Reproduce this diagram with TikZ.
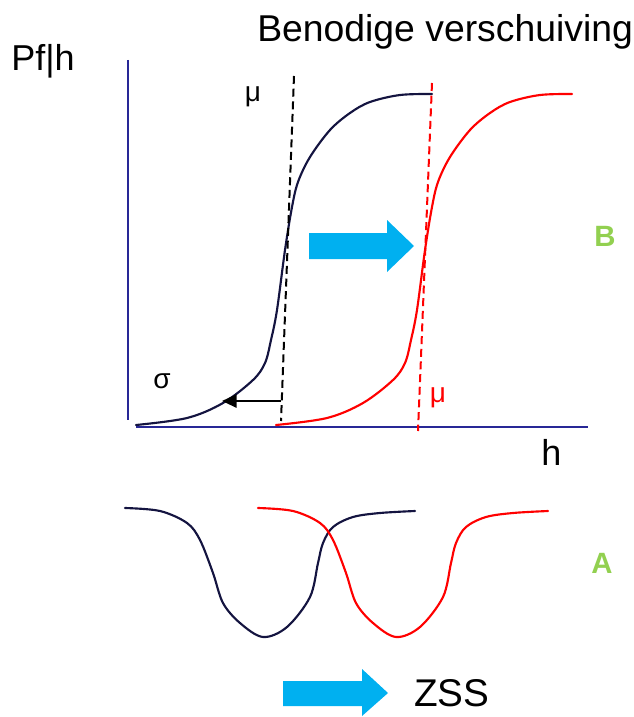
\documentclass[tikz,border=0pt]{standalone}
\usepackage{fontspec}
\setmainfont{Liberation Sans}
\usetikzlibrary{arrows.meta}
\definecolor{navy}{RGB}{20,20,64}
\definecolor{axisblue}{RGB}{40,40,150}
\definecolor{shiftblue}{RGB}{0,176,240}
\definecolor{tagreen}{RGB}{146,208,80}

\tikzset{
  upper s/.pic={\draw[sigmoid,pic actions] plot[smooth,tension=0.55] coordinates {
    (136,425) (187,418) (223,403) (253,380) (265,363) (271,340) (277,310) (285,250)
    (292,207) (298,182) (310,157) (330,130) (350,113) (370,102) (400,95) (432,94)};},
  lower dip/.pic={\draw[sigmoid,pic actions] plot[smooth,tension=0.55] coordinates {
    (125,508) (160,511) (187,523) (200,540) (213,573) (223,603) (240,623) (263,637)
    (287,627) (310,597) (318,563) (323,543) (333,527) (353,517) (380,513) (415,511)};}
}

\begin{document}
\begin{tikzpicture}[x=0.75pt,y=-0.75pt,>={Triangle[length=11pt,width=10pt]},
  lbl/.style={inner sep=0pt,anchor=base west,font=\fontsize{27}{31}\selectfont},
  sym/.style={inner sep=0pt,anchor=base,font=\fontsize{21}{25}\selectfont},
  tagfont/.style={inner sep=0pt,anchor=base west,text=tagreen,font=\fontsize{22}{26}\selectfont\bfseries},
  sigmoid/.style={line width=1.6pt,line join=round,line cap=round},
  meanline/.style={line width=1.5pt,dash pattern=on 6pt off 3.5pt},
  bigarrow/.style={fill=shiftblue,draw=none}]
\useasboundingbox (0,0) rectangle (634,717);

% labels
\node[lbl,font=\fontsize{28}{32}\selectfont] (title) at (257,42) {Benodige verschuiving};
\node[lbl] (ylab) at (11,70) {Pf|h};
\node[lbl] (xlab) at (541,465) {h};
\node[lbl,font=\fontsize{29}{33}\selectfont] (zss) at (414,706) {ZSS};
\node[sym] (muA) at (253,102) {μ};
\node[sym] (sigma) at (162,388) {σ};
\node[sym,red] (muB) at (438,402) {μ};
\node[tagfont] (tagB) at (594,246) {B};
\node[tagfont] (tagA) at (591,573) {A};

% axes
\coordinate (yTop) at (128,60);
\coordinate (yBot) at (128,420);
\coordinate (xL) at (136,427);
\coordinate (xR) at (588,427);
\draw[axisblue,line width=0.8pt] (yTop) -- (yBot);
\draw[axisblue,line width=0.8pt] (xL) -- (xR);

% fragility curves
\pic[navy] at (0,0) {upper s};
\pic[red] at (140,0) {upper s};

% mean lines
\coordinate (muATop) at (294,76);
\coordinate (muABot) at (281,421);
\coordinate (muBTop) at (432,83);
\coordinate (muBBot) at (418,431);
\draw[meanline,black] (muATop) -- (muABot);
\draw[meanline,red] (muBTop) -- (muBBot);

% spread
\coordinate (sigStart) at (281,401);
\coordinate (sigEnd) at (222,401);
\draw[->,line width=1.5pt] (sigStart) -- (sigEnd);

% shift arrows
\fill[bigarrow] (309,233) -- (387,233) -- (387,220) -- (414,246) -- (387,272) -- (387,259) -- (309,259) -- cycle;
\fill[bigarrow] (283,681) -- (362,681) -- (362,669) -- (388,693) -- (362,716) -- (362,706) -- (283,706) -- cycle;

% densities
\pic[navy] at (0,0) {lower dip};
\pic[red] at (133,0) {lower dip};
\end{tikzpicture}
\end{document}
